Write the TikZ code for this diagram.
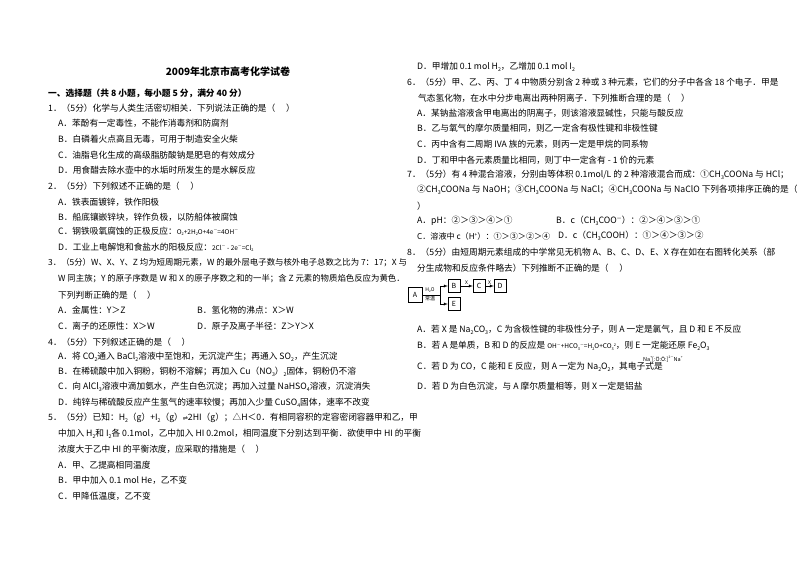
\documentclass[tikz,border=0pt]{standalone}
\usepackage{fontspec}
\setmainfont{Noto Sans CJK SC}
\newfontfamily\dvs{DejaVu Sans}
\newcommand{\dn}[1]{\raisebox{-0.35ex}{\scalebox{0.6}{#1}}}
\newcommand{\upx}[1]{\raisebox{0.7ex}{\scalebox{0.6}{#1}}}
\begin{document}
\begin{tikzpicture}[x=1pt,y=-1pt,
  t/.style={anchor=west,inner sep=0,font=\fontsize{8.7}{9}\selectfont},
  bx/.style={draw,inner sep=0,minimum width=12,minimum height=13,font=\fontsize{7}{7}\selectfont},
  ar/.style={-latex}]
\fill[white] (0,0) rectangle (800,565);
\node[inner sep=0,font=\fontsize{10}{10}\selectfont\bfseries] (title) at (228,72) {2009年北京市高考化学试卷};
\node[t,font=\fontsize{8.7}{9}\selectfont\bfseries] (h1) at (48,93) {一、选择题（共 8 小题，每小题 5 分，满分 40 分）};
\node[t] (q1) at (48,108) {1．（5分）化学与人类生活密切相关．下列说法正确的是（\quad\ ）};
\node[t] (q1a) at (58,123) {A．苯酚有一定毒性，不能作消毒剂和防腐剂};
\node[t] (q1b) at (58,139) {B．白磷着火点高且无毒，可用于制造安全火柴};
\node[t] (q1c) at (58,155) {C．油脂皂化生成的高级脂肪酸钠是肥皂的有效成分};
\node[t] (q1d) at (58,170) {D．用食醋去除水壶中的水垢时所发生的是水解反应};
\node[t] (q2) at (48,186) {2．（5分）下列叙述不正确的是（\quad\ ）};
\node[t] (q2a) at (58,202) {A．铁表面镀锌，铁作阳极};
\node[t] (q2b) at (58,217) {B．船底镶嵌锌块，锌作负极，以防船体被腐蚀};
\node[t] (q2c) at (58,231) {C．钢铁吸氧腐蚀的正极反应：{\fontsize{6.5}{6}\selectfont O\dn{2}+2H\dn{2}O+4e\upx{－}=4OH\upx{－}}};
\node[t] (q2d) at (58,247) {D．工业上电解饱和食盐水的阳极反应：{\fontsize{6.5}{6}\selectfont 2Cl\upx{－} - 2e\upx{－}=Cl\dn{2}}};
\node[t,font=\fontsize{8.4}{9}\selectfont] (q3) at (48,263) {3．（5分）W、X、Y、Z 均为短周期元素，W 的最外层电子数与核外电子总数之比为 7：17；X 与};
\node[t,font=\fontsize{8.4}{9}\selectfont] (q3l2) at (58,279) {W 同主族；Y 的原子序数是 W 和 X 的原子序数之和的一半；含 Z 元素的物质焰色反应为黄色．};
\node[t] (q3l3) at (58,295) {下列判断正确的是（\quad\ ）};
\node[t] (q3a) at (58,310) {A．金属性：Y＞Z};
\node[t] (q3b) at (197,310) {B．氢化物的沸点：X＞W};
\node[t] (q3c) at (58,326) {C．离子的还原性：X＞W};
\node[t] (q3d) at (197,326) {D．原子及离子半径：Z＞Y＞X};
\node[t] (q4) at (48,342) {4．（5分）下列叙述正确的是（\quad\ ）};
\node[t] (q4a) at (58,357) {A．将 CO\dn{2}通入 BaCl\dn{2}溶液中至饱和，无沉淀产生；再通入 SO\dn{2}，产生沉淀};
\node[t] (q4b) at (58,372) {B．在稀硫酸中加入铜粉，铜粉不溶解；再加入 Cu（NO\dn{3}）\dn{2}固体，铜粉仍不溶};
\node[t] (q4c) at (58,387) {C．向 AlCl\dn{3}溶液中滴加氨水，产生白色沉淀；再加入过量 NaHSO\dn{4}溶液，沉淀消失};
\node[t] (q4d) at (58,403) {D．纯锌与稀硫酸反应产生氢气的速率较慢；再加入少量 CuSO\dn{4}固体，速率不改变};
\node[t] (q5) at (48,418) {5．（5分）已知：H\dn{2}（g）+I\dn{2}（g）{\dvs\scalebox{0.7}{⇌}}2HI（g）；△H＜0．有相同容积的定容密闭容器甲和乙，甲};
\node[t] (q5l2) at (58,434) {中加入 H\dn{2}和 I\dn{2}各 0.1mol，乙中加入 HI 0.2mol，相同温度下分别达到平衡．欲使甲中 HI 的平衡};
\node[t] (q5l3) at (58,449) {浓度大于乙中 HI 的平衡浓度，应采取的措施是（\quad\ ）};
\node[t] (q5a) at (58,465) {A．甲、乙提高相同温度};
\node[t] (q5b) at (58,480) {B．甲中加入 0.1 mol He，乙不变};
\node[t] (q5c) at (58,496) {C．甲降低温度，乙不变};
% right column
\node[t] (q5d) at (417,67) {D．甲增加 0.1 mol H\dn{2}，乙增加 0.1 mol I\dn{2}};
\node[t] (q6) at (407,82) {6．（5分）甲、乙、丙、丁 4 中物质分别含 2 种或 3 种元素，它们的分子中各含 18 个电子．甲是};
\node[t] (q6l2) at (418,98) {气态氢化物，在水中分步电离出两种阴离子．下列推断合理的是（\quad\ ）};
\node[t] (q6a) at (417,113) {A．某钠盐溶液含甲电离出的阴离子，则该溶液显碱性，只能与酸反应};
\node[t] (q6b) at (417,128) {B．乙与氧气的摩尔质量相同，则乙一定含有极性键和非极性键};
\node[t] (q6c) at (417,144) {C．丙中含有二周期 IVA 族的元素，则丙一定是甲烷的同系物};
\node[t] (q6d) at (417,160) {D．丁和甲中各元素质量比相同，则丁中一定含有 - 1 价的元素};
\node[t] (q7) at (407,175) {7．（5分）有 4 种混合溶液，分别由等体积 0.1mol/L 的 2 种溶液混合而成：①CH\dn{3}COONa 与 HCl；};
\node[t] (q7l2) at (417,190) {②CH\dn{3}COONa 与 NaOH；③CH\dn{3}COONa 与 NaCl；④CH\dn{3}COONa 与 NaClO 下列各项排序正确的是（};
\node[t] (q7l3) at (417,206) {）};
\node[t] (q7a) at (417,221) {A．pH：②＞③＞④＞①};
\node[t] (q7b) at (556,221) {B．c（CH\dn{3}COO\upx{－}）：②＞④＞③＞①};
\node[t,font=\fontsize{8.1}{9}\selectfont] (q7c) at (417,236) {C．溶液中 c（H\upx{+}）：①＞③＞②＞④};
\node[t] (q7d) at (558,236) {D．c（CH\dn{3}COOH）：①＞④＞③＞②};
\node[t] (q8) at (407,252) {8．（5分）由短周期元素组成的中学常见无机物 A、B、C、D、E、X 存在如在右图转化关系（部};
\node[t] (q8l2) at (417,268) {分生成物和反应条件略去）下列推断不正确的是（\quad\ ）};
% diagram
\node[bx,minimum width=14,minimum height=15] (A) at (415,295) {A};
\node[inner sep=0,font=\fontsize{5}{5}\selectfont] (h2o) at (430,290) {H\dn{2}O};
\node[inner sep=0,font=\fontsize{5}{5}\selectfont] (cw) at (430,299) {常温};
\coordinate (br) at (440,295);
\node[bx] (B) at (454,286) {B};
\node[bx] (C) at (479,286) {C};
\node[bx] (D) at (500,286) {D};
\node[bx] (E) at (454,304) {E};
\draw (A.east) -- (br);
\draw (br |- B) -- (br |- E);
\draw[ar] (br |- B) -- (B);
\draw[ar] (br |- E) -- (E);
\draw[ar] (B) -- node[above,inner sep=1,font=\fontsize{5}{5}\selectfont]{X} (C);
\draw[ar] (C) -- node[above,inner sep=1,font=\fontsize{5}{5}\selectfont]{X} (D);
\node[t] (q8a) at (417,330) {A．若 X 是 Na\dn{2}CO\dn{3}，C 为含极性键的非极性分子，则 A 一定是氯气，且 D 和 E 不反应};
\node[t] (q8b) at (417,346) {B．若 A 是单质，B 和 D 的反应是 {\fontsize{6.5}{6}\selectfont OH\upx{－}+HCO\dn{3}\upx{－}=H\dn{2}O+CO\dn{3}\upx{2}}，则 E 一定能还原 Fe\dn{2}O\dn{3}};
\node[t] (q8c) at (417,367) {C．若 D 为 CO，C 能和 E 反应，则 A 一定为 Na\dn{2}O\dn{2}，其电子式是};
\node[inner sep=0,anchor=west,font=\fontsize{5.5}{6}\selectfont] (ef) at (643,359) {Na\upx{+}[:Ö:Ö:]\upx{2－}Na\upx{+}};
\node[t] (q8d) at (417,386) {D．若 D 为白色沉淀，与 A 摩尔质量相等，则 X 一定是铝盐};
\end{tikzpicture}
\end{document}
